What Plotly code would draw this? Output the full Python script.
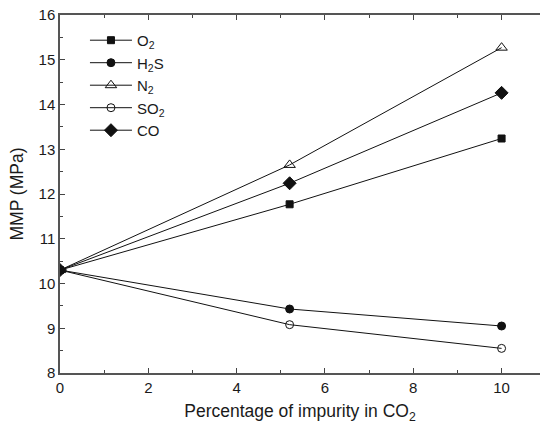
import plotly.graph_objects as go

x_vals = [0, 5.2, 10]
o2 = [10.3, 11.77, 13.24]
h2s = [10.3, 9.43, 9.05]
n2 = [10.3, 12.65, 15.27]
so2 = [10.3, 9.08, 8.55]
co = [10.3, 12.24, 14.26]

series = [
    ("O<sub>2</sub>", o2, "square", 7),
    ("H<sub>2</sub>S", h2s, "circle", 8),
    ("N<sub>2</sub>", n2, "triangle-up-open", 10),
    ("SO<sub>2</sub>", so2, "circle-open", 8),
    ("CO", co, "diamond", 10),
]

fig = go.Figure()
for name, ys, sym, sz in series:
    fig.add_trace(go.Scatter(
        x=x_vals, y=ys, name=name, mode="lines+markers",
        line=dict(color="#111", width=1),
        marker=dict(symbol=sym, size=sz, color="#111",
                    line=dict(color="#111", width=1)),
    ))

font = "Liberation Sans, Arial, sans-serif"
txt = "#1a1a1a"
fig.update_layout(
    width=540, height=427,
    margin=dict(l=60, r=0, t=15, b=54),
    paper_bgcolor="white", plot_bgcolor="white",
    font=dict(family=font, size=15, color=txt),
    showlegend=True,
    legend=dict(x=0.052, y=0.975, xanchor="left", yanchor="top",
                bgcolor="rgba(0,0,0,0)", font=dict(size=15, color=txt),
                tracegroupgap=0, itemwidth=42),
    xaxis=dict(range=[0, 10.87], tickvals=[0, 2, 4, 6, 8, 10],
               ticks="inside", ticklen=5, tickwidth=1, tickcolor="#444",
               showline=True, linecolor="#555", linewidth=1.5, mirror="ticks",
               showgrid=False, zeroline=False,
               minor=dict(ticks="inside", ticklen=3, dtick=1, tickcolor="#444"),
               title=dict(text="Percentage of impurity in CO<sub>2</sub>",
                          font=dict(size=17.5, color=txt), standoff=10),
               tickfont=dict(size=15, color=txt)),
    yaxis=dict(range=[8, 16], dtick=1,
               ticks="inside", ticklen=5, tickwidth=1, tickcolor="#444",
               showline=True, linecolor="#555", linewidth=1.5, mirror=False,
               showgrid=False, zeroline=False,
               minor=dict(ticks="inside", ticklen=3, dtick=0.5, tickcolor="#444"),
               title=dict(text="MMP (MPa)", font=dict(size=17.5, color=txt), standoff=10),
               tickfont=dict(size=15, color=txt)),
)

fig.write_html("out.html")
